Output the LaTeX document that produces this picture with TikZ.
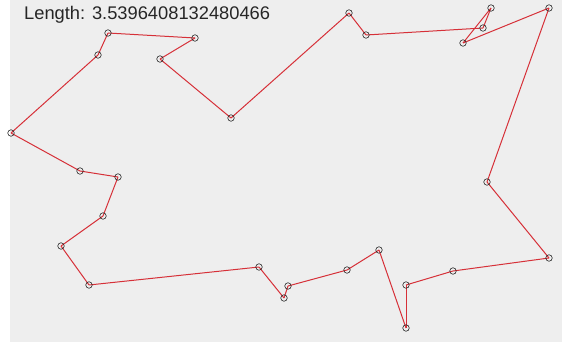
\documentclass[tikz,border=0pt]{standalone}
\usepackage{fontspec}
\setmainfont{Liberation Sans}
\definecolor{tourR}{RGB}{214,48,56}
\definecolor{panelG}{RGB}{238,238,238}
\tikzset{city/.style={circle, draw=black!85, line width=0.6pt, inner sep=0pt, minimum size=6.5pt},
  leg/.style={tourR, line width=1pt}}
\begin{document}
\begin{tikzpicture}[x=1pt, y=-1pt]
\useasboundingbox (0,0) rectangle (562,342);
\fill[panelG] (10,0) rectangle (562,342);
% cities in tour order
\foreach \px/\py [count=\i] in {11/133, 98/55, 108/33, 195/38, 160/59, 231/118,
  349/13, 366/35, 483/28, 491/8, 463/43, 549/8, 487/182, 549/258, 453/271,
  406/285, 406/328, 379/250, 347/270, 288/286, 284/298, 259/267, 89/285,
  61/246, 103/216, 118/177, 80/171}
  \coordinate (c\i) at (\px,\py);
% closed tour
\foreach \i [remember=\i as \j (initially 27)] in {1,...,27}
  \draw[leg] (c\j) -- (c\i);
\foreach \i in {1,...,27}
  \node[city] (m\i) at (c\i) {};
\node[anchor=base west, inner sep=0pt, text=black!85,
  font=\fontsize{18.3}{18.3}\selectfont] (title) at (24,20) {Length: 3.5396408132480466};
\end{tikzpicture}
\end{document}
